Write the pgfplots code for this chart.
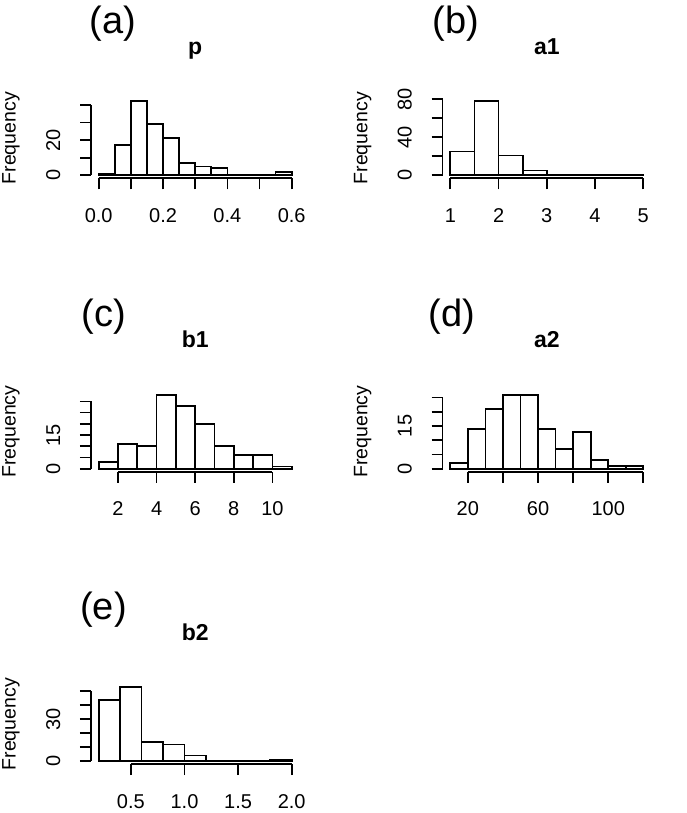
\documentclass[border=0pt]{standalone}
\usepackage{fontspec}
\setmainfont{Liberation Sans}
\usepackage{pgfplots}
\pgfplotsset{compat=1.18}
\pgfplotsset{
 rhist/.style={
  scale only axis, width=208.4pt, height=80pt,
  axis x line*=bottom, axis y line*=left,
  axis line style={draw=none},
  tick align=outside, major tick length=11pt,
  tick style={line width=1.7pt, black},
  minor tick num=0,
  clip=false,
  anchor=south west,
  tick label style={font=\fontsize{20}{20}\selectfont},
  /pgf/number format/assume math mode=true,
  xticklabel style={anchor=north, inner sep=0pt},
  yticklabel style={rotate=90, anchor=south, inner sep=0pt},
  xticklabel shift=19pt, yticklabel shift=19.5pt,
  title style={font=\bfseries\fontsize{23}{23}\selectfont, at={(0.5,1)}, anchor=base, yshift=38pt},
  ylabel={Frequency},
  every axis y label/.style={at={([xshift=-75.3pt]rel axis cs:0,0.5)}, rotate=90, anchor=base, font=\fontsize{19.5}{20}\selectfont},
 },
 histbar/.style={ybar interval, fill=white, draw=black, line width=1.7pt},
}
\tikzset{axln/.style={line width=1.7pt, black}}
\begin{document}
\begin{tikzpicture}
\useasboundingbox[fill=white] (0,0) rectangle (686pt,813pt);

% (a) p
\begin{axis}[rhist, at={(91pt,634.7pt)}, title={p},
  xmin=-0.024, xmax=0.624, ymin=-1.68, ymax=43.68,
  xtick={0,0.1,0.2,0.3,0.4,0.5,0.6}, xticklabels={0.0,,0.2,,0.4,,0.6},
  ytick={0,10,20,30,40}, yticklabels={0,,20,,}]
\addplot[histbar] coordinates {(0,1)(0.05,17)(0.1,42)(0.15,29)(0.2,21)(0.25,7)(0.3,5)(0.35,4)(0.4,0)(0.45,0)(0.5,0)(0.55,2)(0.6,2)};
\draw[axln] (axis cs:0,-1.68) -- (axis cs:0.6,-1.68);
\draw[axln] (axis cs:-0.024,0) -- (axis cs:-0.024,40);
\end{axis}

% (b) a1
\begin{axis}[rhist, at={(442.6pt,634.7pt)}, title={a1},
  xmin=0.84, xmax=5.16, ymin=-3.12, ymax=81.12,
  xtick={1,2,3,4,5}, xticklabels={1,2,3,4,5},
  ytick={0,20,40,60,80}, yticklabels={0,,40,,80}]
\addplot[histbar] coordinates {(1,25)(1.5,78)(2,21)(2.5,5)(3,0)(3.5,1)(4,0)(4.5,1)(5,1)};
\draw[axln] (axis cs:1,-3.12) -- (axis cs:5,-3.12);
\draw[axln] (axis cs:0.84,0) -- (axis cs:0.84,80);
\end{axis}

% (c) b1
\begin{axis}[rhist, at={(91pt,341.3pt)}, title={b1},
  xmin=0.6, xmax=11.4, ymin=-1.32, ymax=34.32,
  xtick={2,4,6,8,10}, xticklabels={2,4,6,8,10},
  ytick={0,5,10,15,20,25,30}, yticklabels={0,,,15,,,}]
\addplot[histbar] coordinates {(1,3)(2,11)(3,10)(4,33)(5,28)(6,20)(7,10)(8,6)(9,6)(10,1)(11,1)};
\draw[axln] (axis cs:2,-1.32) -- (axis cs:10,-1.32);
\draw[axln] (axis cs:0.6,0) -- (axis cs:0.6,30);
\end{axis}

% (d) a2
\begin{axis}[rhist, at={(442.6pt,341.3pt)}, title={a2},
  xmin=5.6, xmax=124.4, ymin=-1.04, ymax=27.04,
  xtick={20,40,60,80,100,120}, xticklabels={20,,60,,100,},
  ytick={0,5,10,15,20,25}, yticklabels={0,,,15,,}]
\addplot[histbar] coordinates {(10,2)(20,14)(30,21)(40,26)(50,26)(60,14)(70,7)(80,13)(90,3)(100,1)(110,1)(120,1)};
\draw[axln] (axis cs:20,-1.04) -- (axis cs:120,-1.04);
\draw[axln] (axis cs:5.6,0) -- (axis cs:5.6,25);
\end{axis}

% (e) b2
\begin{axis}[rhist, at={(91pt,48.8pt)}, title={b2},
  xmin=0.128, xmax=2.072, ymin=-2.12, ymax=55.12,
  xtick={0.5,1,1.5,2}, xticklabels={0.5,1.0,1.5,2.0},
  ytick={0,10,20,30,40,50}, yticklabels={0,,,30,,}]
\addplot[histbar] coordinates {(0.2,44)(0.4,53)(0.6,14)(0.8,12)(1.0,4)(1.2,0)(1.4,0)(1.6,0)(1.8,1)(2.0,1)};
\draw[axln] (axis cs:0.5,-2.12) -- (axis cs:2,-2.12);
\draw[axln] (axis cs:0.128,0) -- (axis cs:0.128,50);
\end{axis}

\node[font=\fontsize{38}{38}\selectfont, anchor=base] at (113pt,779pt) {(a)};
\node[font=\fontsize{38}{38}\selectfont, anchor=base] at (456pt,779pt) {(b)};
\node[font=\fontsize{38}{38}\selectfont, anchor=base] at (103.5pt,486pt) {(c)};
\node[font=\fontsize{38}{38}\selectfont, anchor=base] at (452pt,486pt) {(d)};
\node[font=\fontsize{38}{38}\selectfont, anchor=base] at (103.5pt,193pt) {(e)};
\end{tikzpicture}
\end{document}
